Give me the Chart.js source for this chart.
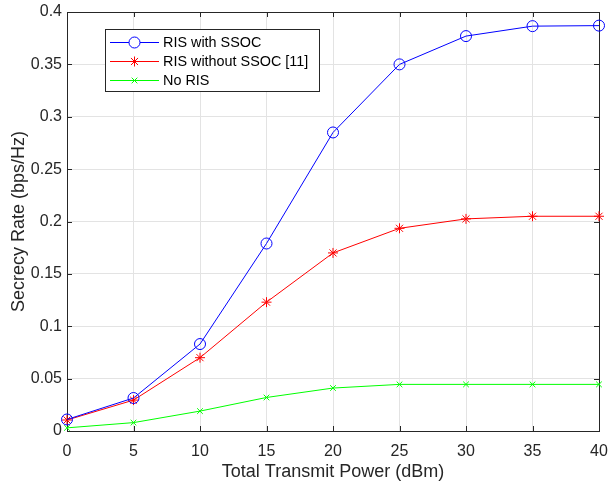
<!DOCTYPE html>
<html>
<head>
<meta charset="utf-8">
<script src="https://cdn.jsdelivr.net/npm/chart.js@4.4.0/dist/chart.umd.min.js"></script>
<style>
  body { margin: 0; background: #fff; }
  #wrap { width: 608px; height: 487px; }
</style>
</head>
<body>
<div id="wrap"><canvas id="chart" width="608" height="487"></canvas></div>
<script>
// transmit power (dBm)
var powers = [0, 5, 10, 15, 20, 25, 30, 35, 40];

// secrecy rate (bps/Hz)
var withSsoc = [0.011, 0.0315, 0.083, 0.179, 0.285, 0.35, 0.377, 0.3865, 0.387];
var withoutSsoc = [0.0105, 0.0295, 0.07, 0.123, 0.17, 0.1935, 0.2025, 0.205, 0.205];
var noRis = [0.003, 0.008, 0.019, 0.032, 0.041, 0.0445, 0.0445, 0.0445, 0.0445];

var seriesNames = ['RIS with SSOC', 'RIS without SSOC [11]', 'No RIS'];

var xTicks = [0, 5, 10, 15, 20, 25, 30, 35, 40];
var yTicks = [0, 0.05, 0.1, 0.15, 0.2, 0.25, 0.3, 0.35, 0.4];

var axisColor = '#262626';
var fontFamily = '"Liberation Sans", Arial, Helvetica, sans-serif';

function toPoints(values) {
    return values.map(function (v, i) {
        return {x: powers[i], y: v};
    });
}

function makeSet(label, values, color, style, radius) {
    return {
        label: label,
        data: toPoints(values),
        borderColor: color,
        backgroundColor: 'rgba(0,0,0,0)',
        borderWidth: 1,
        pointStyle: style,
        pointRadius: radius,
        pointBorderColor: color,
        pointBorderWidth: 1,
        pointBackgroundColor: 'rgba(0,0,0,0)',
        tension: 0,
        clip: false
    };
}

// box + inward ticks, matlab style
var framePlugin = {
    id: 'frame',
    beforeDatasetsDraw: function (chart) {
        var ctx = chart.ctx;
        var a = chart.chartArea;
        var xs = chart.scales.x, ys = chart.scales.y;
        var len = 5;
        ctx.save();
        ctx.strokeStyle = axisColor;
        ctx.lineWidth = 1;
        ctx.beginPath();
        xTicks.forEach(function (t) {
            var px = Math.round(xs.getPixelForValue(t)) + 0.5;
            ctx.moveTo(px, a.bottom);
            ctx.lineTo(px, a.bottom - len);
            ctx.moveTo(px, a.top);
            ctx.lineTo(px, a.top + len);
        });
        yTicks.forEach(function (t) {
            var py = Math.round(ys.getPixelForValue(t)) + 0.5;
            ctx.moveTo(a.left, py);
            ctx.lineTo(a.left + len, py);
            ctx.moveTo(a.right, py);
            ctx.lineTo(a.right - len, py);
        });
        ctx.stroke();
        ctx.strokeRect(Math.round(a.left) + 0.5, Math.round(a.top) + 0.5,
            Math.round(a.right - a.left), Math.round(a.bottom - a.top));
        ctx.restore();
    }
};

// legend box in the top-left corner of the axes
var legendPlugin = {
    id: 'boxLegend',
    afterDraw: function (chart) {
        var ctx = chart.ctx;
        var box = {x: 105.5, y: 29.5, w: 214, h: 62};
        ctx.save();
        ctx.fillStyle = '#fff';
        ctx.fillRect(box.x, box.y, box.w, box.h);
        ctx.strokeStyle = axisColor;
        ctx.lineWidth = 1;
        ctx.strokeRect(box.x, box.y, box.w, box.h);
        ctx.font = '14.4px ' + fontFamily;
        ctx.textBaseline = 'middle';
        ctx.textAlign = 'left';
        chart.data.datasets.forEach(function (ds, i) {
            var y = 42.5 + i * 19;
            ctx.strokeStyle = ds.borderColor;
            ctx.lineWidth = 1;
            ctx.beginPath();
            ctx.moveTo(110, y);
            ctx.lineTo(159, y);
            ctx.stroke();
            Chart.helpers.drawPoint(ctx, {
                pointStyle: ds.pointStyle,
                radius: ds.pointRadius,
                borderWidth: 1,
                rotation: 0
            }, 134.5, y);
            ctx.fillStyle = '#000';
            ctx.fillText(ds.label, 163, y + 1);
        });
        ctx.restore();
    }
};

new Chart(document.getElementById('chart').getContext('2d'), {
    type: 'line',
    data: {
        datasets: [
            makeSet(seriesNames[0], withSsoc, '#0000ff', 'circle', 5.5),
            makeSet(seriesNames[1], withoutSsoc, '#ff0000', 'star', 5),
            makeSet(seriesNames[2], noRis, '#00ff00', 'crossRot', 4)
        ]
    },
    options: {
        responsive: false,
        animation: false,
        layout: {padding: {left: 0, top: 12, right: 9, bottom: 0}},
        plugins: {
            legend: {display: false},
            tooltip: {enabled: false}
        },
        scales: {
            x: {
                type: 'linear',
                min: 0,
                max: 40,
                afterBuildTicks: function (scale) {
                    scale.ticks = xTicks.map(function (v) { return {value: v}; });
                },
                afterFit: function (scale) {
                    scale.height = 56;
                    scale.paddingLeft = 0;
                    scale.paddingRight = 0;
                },
                grid: {color: '#e3e3e3', drawTicks: false},
                border: {display: false},
                ticks: {
                    color: axisColor,
                    padding: 11,
                    maxRotation: 0,
                    font: {family: fontFamily, size: 16},
                    callback: function (v) { return String(v); }
                },
                title: {
                    display: true,
                    text: 'Total Transmit Power (dBm)',
                    color: axisColor,
                    font: {family: fontFamily, size: 18},
                    padding: {top: 0, bottom: 4}
                }
            },
            y: {
                type: 'linear',
                min: 0,
                max: 0.4,
                afterBuildTicks: function (scale) {
                    scale.ticks = yTicks.map(function (v) { return {value: v}; });
                },
                afterFit: function (scale) {
                    scale.width = 67;
                    scale.paddingTop = 0;
                    scale.paddingBottom = 0;
                },
                grid: {color: '#e3e3e3', drawTicks: false},
                border: {display: false},
                ticks: {
                    color: axisColor,
                    padding: 5,
                    font: {family: fontFamily, size: 16},
                    callback: function (v) { return String(+v.toFixed(2)); }
                },
                title: {
                    display: true,
                    text: 'Secrecy Rate (bps/Hz)',
                    color: axisColor,
                    font: {family: fontFamily, size: 18},
                    padding: {top: 8, bottom: 0}
                }
            }
        }
    },
    plugins: [framePlugin, legendPlugin]
});
</script>
</body>
</html>
